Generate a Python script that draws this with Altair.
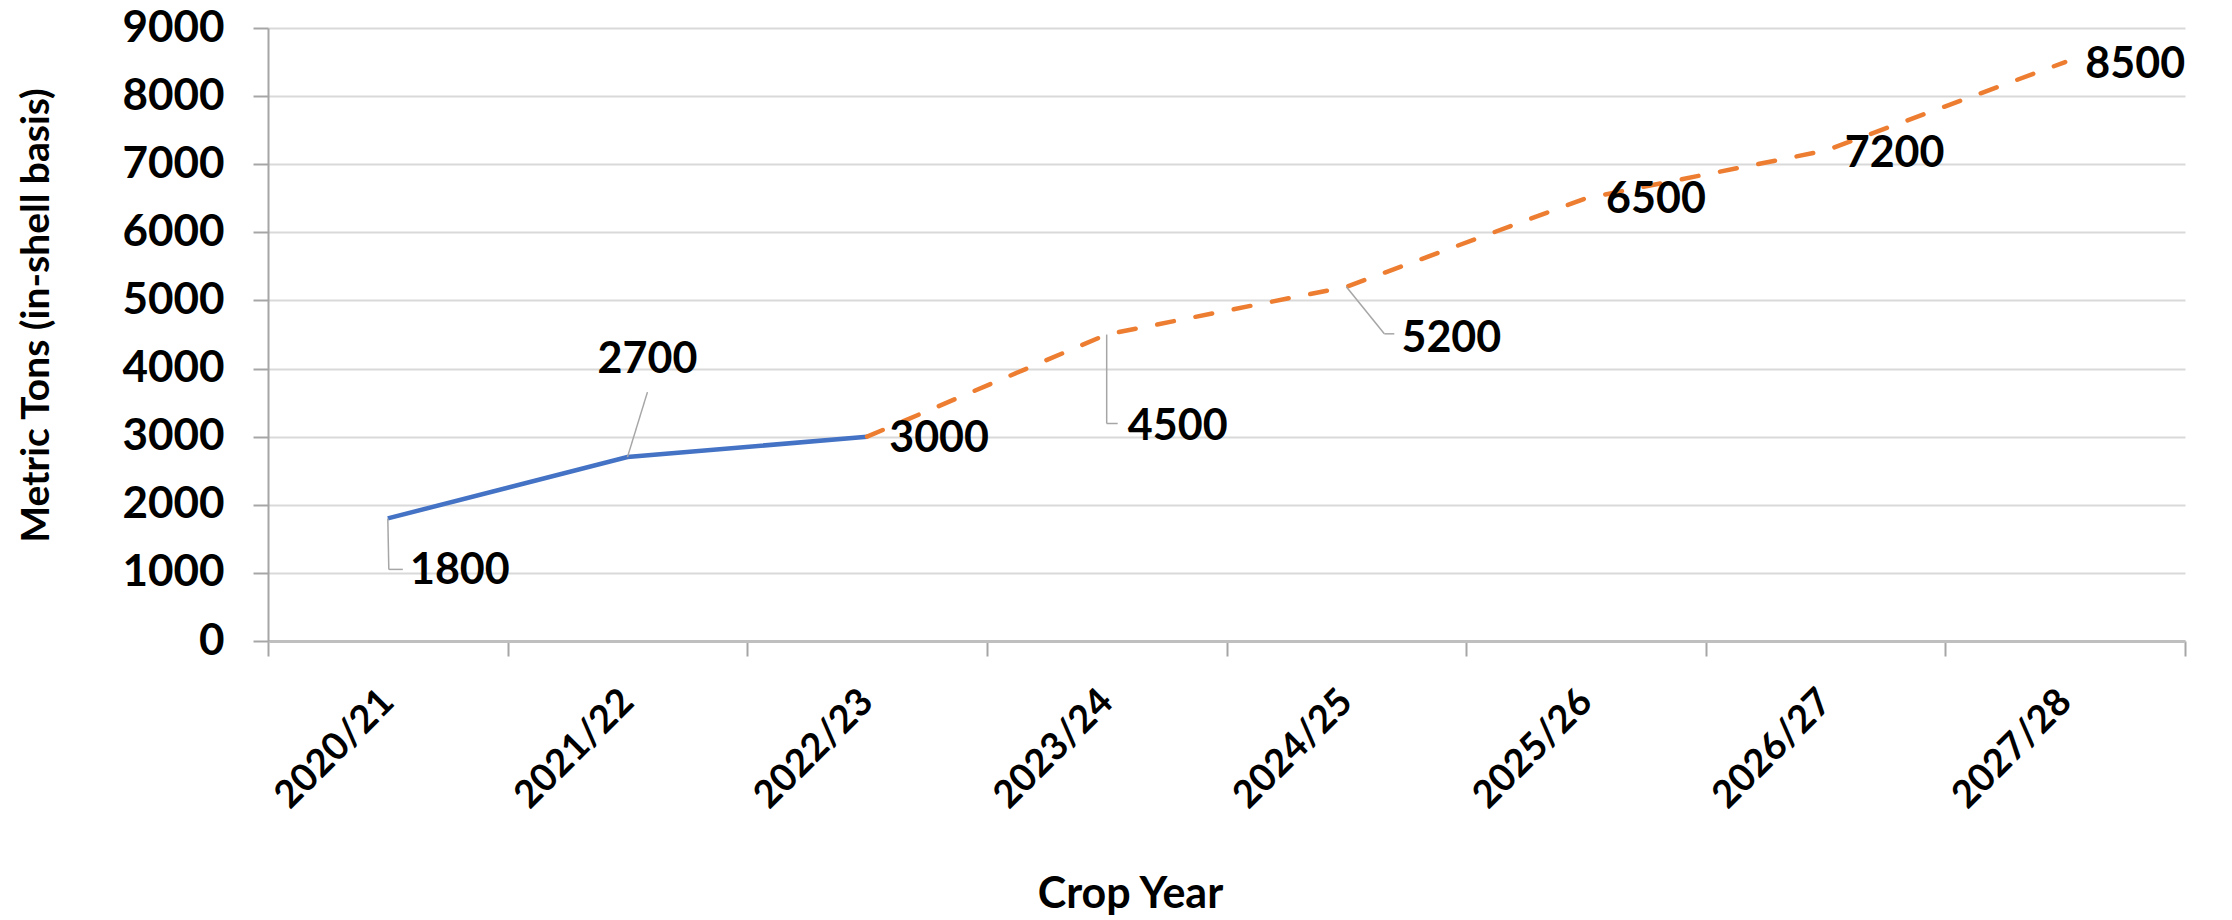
import altair as alt
import pandas as pd

# ---------------- data ----------------
years = ["2020/21", "2021/22", "2022/23", "2023/24", "2024/25", "2025/26", "2026/27", "2027/28"]
actual_years = ["2020/21", "2021/22", "2022/23"]
actual_values = [1800, 2700, 3000]
projected_years = ["2022/23", "2023/24", "2024/25", "2025/26", "2026/27", "2027/28"]
projected_values = [3000, 4500, 5200, 6500, 7200, 8500]
label_years = years
label_values = [1800, 2700, 3000, 4500, 5200, 6500, 7200, 8500]
y_ticks = [0, 1000, 2000, 3000, 4000, 5000, 6000, 7000, 8000, 9000]

actual = pd.DataFrame({"year": actual_years, "value": actual_values})
projected = pd.DataFrame({"year": projected_years, "value": projected_values})
labels = pd.DataFrame({"year": label_years, "value": label_values})

# ---------------- style ----------------
FONT = "Lato"
GRID = "#D9D9D9"
AXIS = "#A6A6A6"
LEADER = "#A6A6A6"

# label offsets (pixels) relative to data point
label_offsets = {
    "2020/21": (72, 53),
    "2021/22": (20, -97),
    "2022/23": (72, 2),
    "2023/24": (71, 92),
    "2024/25": (105, 52),
    "2025/26": (70, 2),
    "2026/27": (69, 3),
    "2027/28": (70, 3),
}
# leader line segments: (x0, y0, x1, y1) pixel offsets from data point
leader_segments = {
    "2020/21": [(0, 0, 1, 51), (1, 51, 15, 51)],
    "2021/22": [(0, 0, 20, -65)],
    "2023/24": [(0, 0, 0, 89), (0, 89, 11, 89)],
    "2024/25": [(0, 0, 38, 47), (38, 47, 48, 47)],
}

x_enc = alt.X(
    "year:N",
    scale=alt.Scale(domain=years, paddingInner=0, paddingOuter=0),
    axis=alt.Axis(
        title="Crop Year",
        titleFont=FONT, titleFontSize=43, titleFontWeight="bold", titleColor="black",
        titleX=862, titleY=266, titleBaseline="alphabetic", titleAnchor="start", titleAlign="center",
        labelFont=FONT, labelFontSize=38, labelFontWeight="bold", labelColor="black",
        labelAngle=-45, labelAlign="right", labelBaseline="middle",
        labelPadding=40, labelOverlap=False, labelFlush=False,
        tickBand="extent", tickSize=15, tickColor=AXIS, tickWidth=2,
        domainColor="#BFBFBF", domainWidth=3, grid=False,
    ),
)
y_enc = alt.Y(
    "value:Q",
    scale=alt.Scale(domain=[0, 9000], nice=False, zero=True),
    axis=alt.Axis(
        values=y_ticks, format="d",
        title="Metric Tons (in-shell basis)",
        titleFont=FONT, titleFontSize=39, titleFontWeight="bold", titleColor="black",
        titleX=-232, titleY=287, titleBaseline="middle", titleAngle=-90, titleAlign="center",
        labelFont=FONT, labelFontSize=44, labelFontWeight="bold", labelColor="black",
        labelPadding=29,
        tickSize=15, tickColor=AXIS, tickWidth=2,
        domainColor=AXIS, domainWidth=2,
        grid=True, gridColor=GRID, gridWidth=2,
    ),
)

blue = alt.Chart(actual).mark_line(color="#4472C4", strokeWidth=4.5).encode(x=x_enc, y=y_enc)
orange = alt.Chart(projected).mark_line(
    color="#ED7D31", strokeWidth=4.5, strokeDash=[17, 22], strokeCap="round"
).encode(x=x_enc, y=y_enc)

layers = [blue, orange]

for yr, segs in leader_segments.items():
    for (x0, y0, x1, y1) in segs:
        layers.append(
            alt.Chart(labels)
            .transform_filter(alt.datum.year == yr)
            .mark_rule(color=LEADER, strokeWidth=1.5,
                       xOffset=x0, yOffset=y0, x2Offset=x1, y2Offset=y1)
            .encode(x=x_enc, y=y_enc, x2=alt.X2("year:N"), y2=alt.Y2("value:Q"))
        )

for yr, (dx, dy) in label_offsets.items():
    layers.append(
        alt.Chart(labels)
        .transform_filter(alt.datum.year == yr)
        .mark_text(dx=dx, dy=dy, font=FONT, fontSize=43, fontWeight="bold",
                   color="black", align="center", baseline="middle")
        .encode(x=x_enc, y=y_enc, text=alt.Text("value:Q", format="d"))
    )

chart = (
    alt.layer(*layers)
    .properties(
        width=1917,
        height=613,
        autosize=alt.AutoSizeParams(type="none"),
        padding={"left": 260, "top": 20, "right": 39, "bottom": 279},
        background="white",
    )
    .configure_view(stroke=None)
)

chart.save("out.html", embed_options={"renderer": "svg", "actions": False})
